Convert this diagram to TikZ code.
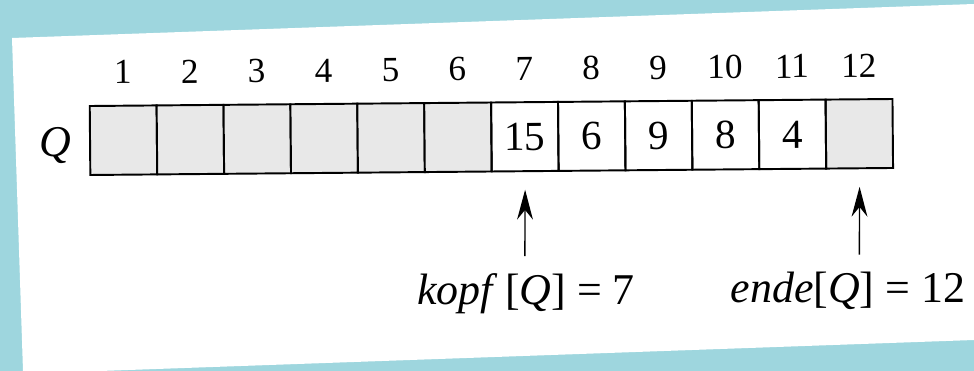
\documentclass[tikz,border=0pt]{standalone}
\usepackage{fontspec}
\setmainfont{Liberation Serif}
\usetikzlibrary{arrows.meta}
\definecolor{bgblue}{RGB}{158,214,222}

\begin{document}
\begin{tikzpicture}[x=0.02cm,y=-0.02cm,
  cell/.style={draw,line width=1.1pt,minimum width=1.338cm,minimum height=1.38cm,inner sep=0pt,font=\fontsize{23.5}{28}\selectfont},
  spare/.style={cell,fill=black!9},
  idx/.style={inner sep=0pt,font=\fontsize{20}{22}\selectfont},
  lbl/.style={inner sep=0pt,font=\fontsize{25}{30}\selectfont},
  ptr/.style={-{Stealth[length=17pt,width=9pt]},line width=0.8pt}]

% scanned page on the blue card
\fill[bgblue] (0,0) rectangle (974,371);
\useasboundingbox (0,0) rectangle (974,371);
\fill[white] (12,38) -- (974,4) -- (974,340) -- (100,371) -- (23,371) -- cycle;

\begin{scope}[rotate around={0.5:(491,137)},transform shape]
% the array Q[1..12]
\foreach \i in {1,2,3,4,5,6,12}
  \node[spare] (c\i) at ({90+66.9*(\i-0.5)},137) {};
\foreach \i/\v in {7/15,8/6,9/9,10/8,11/4}
  \node[cell] (c\i) at ({90+66.9*(\i-0.5)},137) {\v};

% indices
\foreach \i in {1,...,12}
  \node[idx] (i\i) at ({90+66.9*(\i-0.5)},69) {\i};
\end{scope}

\node[lbl,anchor=base] (q) at (55,157) {\textit{Q}};

% head and tail
\node[lbl,anchor=base] (kopf) at (526,305) {\textit{kopf}\,[\textit{Q}] = 7};
\node[lbl,anchor=base] (ende) at (848,303) {\textit{ende}[\textit{Q}] = 12};

\draw[ptr,shorten <=10pt,shorten >=10pt] (kopf.north -| c7) -- (c7.south);
\draw[ptr,shorten <=10pt,shorten >=10pt] (ende.north -| c12) -- (c12.south);

\end{tikzpicture}
\end{document}
